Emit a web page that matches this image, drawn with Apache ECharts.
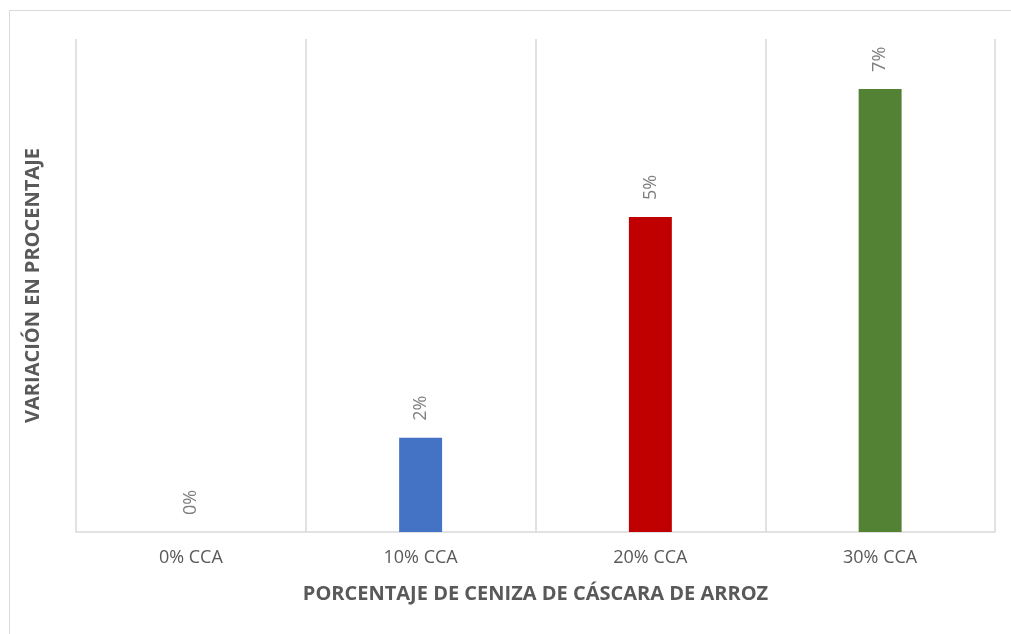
<!DOCTYPE html>
<html>
<head>
<meta charset="utf-8">
<script src="https://cdn.jsdelivr.net/npm/echarts@6/dist/echarts.min.js"></script>
<style>
  html, body { margin: 0; padding: 0; background: #fff; }
  #chart { width: 1011px; height: 634px; }
</style>
</head>
<body>
<div id="chart"></div>
<script>
const categorias = ['0% CCA', '10% CCA', '20% CCA', '30% CCA'];
const variacion = [0, 1.53, 5.11, 7.19];
const colores = ['#A5A5A5', '#4472C4', '#C00000', '#548235'];

const getOption = () => {
  return {
    animation: false,
    graphic: [
      {
        type: 'rect',
        shape: { x: 9.5, y: 10.5, width: 1010, height: 630 },
        style: { fill: 'none', stroke: '#d9d9d9', lineWidth: 1 }
      }
    ],
    grid: { left: 76, right: 16, top: 39, bottom: 102 },
    xAxis: {
      type: 'category',
      data: categorias,
      name: 'PORCENTAJE DE CENIZA DE CÁSCARA DE ARROZ',
      nameLocation: 'middle',
      nameGap: 52,
      nameTextStyle: { color: '#595959', fontSize: 20, fontWeight: 'bold', fontFamily: 'Open Sans' },
      axisLine: { lineStyle: { color: '#d9d9d9', width: 1.5 } },
      axisTick: { show: false },
      axisLabel: { color: '#595959', fontSize: 18, fontFamily: 'Open Sans', margin: 17 },
      splitLine: { show: true, lineStyle: { color: '#d9d9d9', width: 1.5 } }
    },
    yAxis: {
      type: 'value',
      min: 0,
      max: 8,
      interval: 1,
      name: 'VARIACIÓN EN PROCENTAJE',
      nameLocation: 'middle',
      nameGap: 33,
      nameRotate: 90,
      nameTextStyle: { color: '#595959', fontSize: 20, fontWeight: 'bold', fontFamily: 'Open Sans' },
      axisLine: { show: false },
      axisTick: { show: false },
      axisLabel: { show: false },
      splitLine: { show: false }
    },
    series: [
      {
        type: 'bar',
        barWidth: '18.7%',
        data: variacion.map((v, i) => ({ value: v, itemStyle: { color: colores[i] } })),
        label: {
          show: true,
          position: 'top',
          rotate: 90,
          align: 'left',
          verticalAlign: 'middle',
          distance: 17,
          color: '#7f7f7f',
          fontSize: 18,
          fontFamily: 'Open Sans',
          formatter: p => Math.round(p.value) + '%'
        }
      }
    ]
  };
};

const chart = echarts.init(document.querySelector('#chart'));
chart.setOption(getOption());
</script>
</body>
</html>
